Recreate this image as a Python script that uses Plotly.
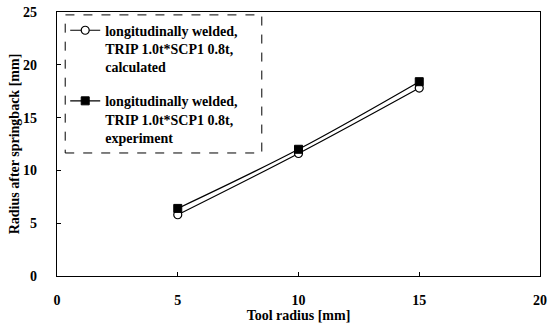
import plotly.graph_objects as go

tool_radius = [5, 10, 15]
calculated = [5.8, 11.6, 17.8]
experiment = [6.4, 12.0, 18.4]
name_calc = "<b>longitudinally welded,<br>TRIP 1.0t*SCP1 0.8t,<br>calculated</b>"
name_exp = "<b>longitudinally welded,<br>TRIP 1.0t*SCP1 0.8t,<br>experiment</b>"
x_ticks = [0, 5, 10, 15, 20]
y_ticks = [0, 5, 10, 15, 20, 25]

FONT = "Liberation Serif"

fig = go.Figure()
fig.add_trace(go.Scatter(
    x=tool_radius, y=calculated, name=name_calc, mode="lines+markers", legendgroup="calc",
    line=dict(color="black", width=1.2, shape="spline"),
    marker=dict(symbol="circle", size=8, color="white", line=dict(color="black", width=1.2)),
))
fig.add_trace(go.Scatter(
    x=tool_radius, y=experiment, name=name_exp, mode="lines+markers", legendgroup="exp",
    line=dict(color="black", width=1.2, shape="spline"),
    marker=dict(symbol="square", size=8, color="black", line=dict(color="black", width=1)),
))

fig.update_layout(
    width=559, height=328,
    margin=dict(l=57, r=19, t=12, b=52),
    paper_bgcolor="white", plot_bgcolor="white",
    font=dict(family=FONT, size=14, color="black"),
    showlegend=True,
    legend=dict(x=0.017, y=0.99, xanchor="left", yanchor="top", valign="top",
                bgcolor="rgba(0,0,0,0)", borderwidth=0, traceorder="grouped",
                font=dict(family=FONT, size=14, color="black"),
                tracegroupgap=13, itemwidth=30),
    xaxis=dict(range=[0, 20], tickvals=x_ticks, ticktext=[f"<b>{v}</b>" for v in x_ticks],
               ticks="inside", ticklen=4, tickcolor="black", ticklabelstandoff=11,
               showline=True, linecolor="black", linewidth=1.2, mirror=True,
               showgrid=False, zeroline=False, automargin=False,
               title=dict(text="<b>Tool radius [mm]</b>", font=dict(family=FONT, size=14), standoff=3)),
    yaxis=dict(range=[0, 25], tickvals=y_ticks, ticktext=[f"<b>{v}</b>" for v in y_ticks],
               ticks="inside", ticklen=4, tickcolor="black", ticklabelstandoff=16,
               showline=True, linecolor="black", linewidth=1.2, mirror=True,
               showgrid=False, zeroline=False, automargin=False,
               title=dict(text="<b>Radius after springback [mm]</b>", font=dict(family=FONT, size=14), standoff=0)),
    shapes=[dict(type="rect", xref="paper", yref="paper", x0=0.017, x1=0.424, y0=0.466, y1=0.989,
                 line=dict(color="black", width=1, dash="dash"))],
)

fig.write_html("out.html", config={"displayModeBar": False},
               post_script="document.body.style.margin='0';")
